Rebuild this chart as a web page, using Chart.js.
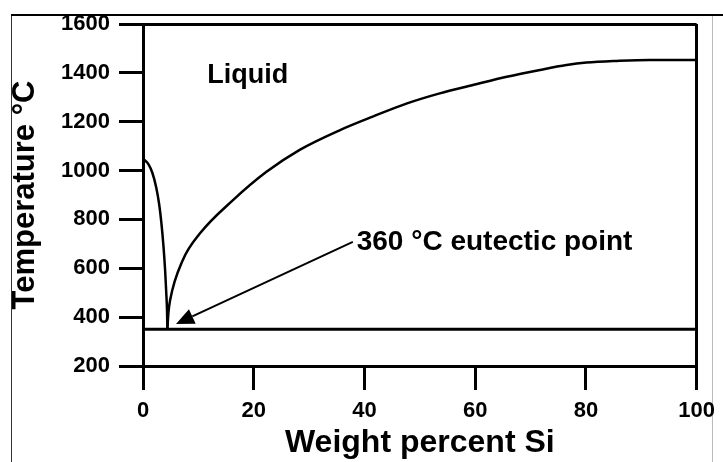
<!DOCTYPE html>
<html>
<head>
<meta charset="utf-8">
<script src="https://cdn.jsdelivr.net/npm/chart.js@4.4.1/dist/chart.umd.min.js"></script>
<style>
  html, body { margin: 0; padding: 0; background: #fff; }
  #frameTop { position: absolute; left: 11px; top: 14px; width: 712px; height: 0; border-top: 2px solid #000; }
  #frame { position: absolute; left: 11px; top: 16px; width: 700px; height: 446px;
           border-left: 1px solid #333; border-right: 1px solid #bbb; }
  #wrap { position: absolute; left: 0; top: 0; width: 723px; height: 462px; }
</style>
</head>
<body>
<div id="frameTop"></div>
<div id="frame"></div>
<div id="wrap"><canvas id="c" width="723" height="462"></canvas></div>
<script>
// ---- data ----
const leftBranchX = [0, 0.3, 1.0, 1.7, 2.4, 2.9, 3.3, 3.7, 4.0, 4.2, 4.35, 4.4];
const leftBranchT = [1050, 1043, 1025, 990, 930, 865, 790, 690, 590, 500, 420, 350];
const rightBranchX = [4.4, 4.6, 4.9, 7.2, 10.3, 16.3, 22.3, 28.3, 35.6, 41.5, 47.7, 53.6, 59.6, 65.7, 71.7, 76.5, 80.1, 85.6, 91.5, 100];
const rightBranchT = [350, 420, 470, 634, 743, 880, 995, 1085, 1166, 1221, 1275, 1316, 1350, 1384, 1412, 1432, 1442, 1449, 1453, 1453];
const eutecticX = [0, 100];
const eutecticT = [350, 350];
const xTicks = [0, 20, 40, 60, 80, 100];
const yTicks = [200, 400, 600, 800, 1000, 1200, 1400, 1600];
const liquidLabel = { text: 'Liquid', x: 11.6, t: 1391 };
const eutecticLabel = { text: '360 °C eutectic point', x: 38.6, t: 708 };
const arrowTail = { x: 37.9, t: 708 };
const arrowTip = { x: 5.96, t: 372 };

const FONT = '"Liberation Sans", Arial, Helvetica, sans-serif';
const toPts = (xs, ts) => xs.map((x, i) => ({ x: x, y: ts[i] }));

const annotate = {
  id: 'annotate',
  afterDatasetsDraw(chart) {
    const { ctx, scales: { x, y } } = chart;
    ctx.save();
    ctx.fillStyle = '#000';
    ctx.strokeStyle = '#000';
    ctx.textBaseline = 'middle';
    ctx.textAlign = 'left';
    ctx.font = 'bold 27px ' + FONT;
    ctx.fillText(liquidLabel.text, x.getPixelForValue(liquidLabel.x), y.getPixelForValue(liquidLabel.t));
    ctx.font = 'bold 28px ' + FONT;
    ctx.fillText(eutecticLabel.text, x.getPixelForValue(eutecticLabel.x), y.getPixelForValue(eutecticLabel.t));
    // arrow
    const x1 = x.getPixelForValue(arrowTail.x), y1 = y.getPixelForValue(arrowTail.t);
    const x2 = x.getPixelForValue(arrowTip.x), y2 = y.getPixelForValue(arrowTip.t);
    const ang = Math.atan2(y2 - y1, x2 - x1);
    const L = 18, W = 8;
    const bx = x2 - L * Math.cos(ang), by = y2 - L * Math.sin(ang);
    ctx.lineWidth = 2;
    ctx.beginPath();
    ctx.moveTo(x1, y1);
    ctx.lineTo(bx, by);
    ctx.stroke();
    ctx.beginPath();
    ctx.moveTo(x2, y2);
    ctx.lineTo(bx + W * Math.sin(ang), by - W * Math.cos(ang));
    ctx.lineTo(bx - W * Math.sin(ang), by + W * Math.cos(ang));
    ctx.closePath();
    ctx.fill();
    ctx.restore();
  }
};

const lineStyle = { borderColor: '#000', borderWidth: 2.5, pointRadius: 0, fill: false, cubicInterpolationMode: 'monotone' };

new Chart(document.getElementById('c'), {
  type: 'scatter',
  data: {
    datasets: [
      Object.assign({ label: 'liquidus (Au side)', data: toPts(leftBranchX, leftBranchT), showLine: true }, lineStyle),
      Object.assign({ label: 'liquidus (Si side)', data: toPts(rightBranchX, rightBranchT), showLine: true }, lineStyle),
      { label: 'eutectic', data: toPts(eutecticX, eutecticT), showLine: true, borderColor: '#000', borderWidth: 3, pointRadius: 0 }
    ]
  },
  options: {
    responsive: false,
    animation: false,
    layout: { padding: { left: 0, top: 24, right: 26, bottom: 0 } },
    plugins: { legend: { display: false }, tooltip: { enabled: false } },
    scales: {
      x: {
        type: 'linear', min: 0, max: 100,
        afterBuildTicks: s => { s.ticks = xTicks.map(v => ({ value: v })); },
        afterFit: s => { s.height = 96; },
        border: { color: '#000', width: 3 },
        grid: {
          color: c => (c.tick && c.tick.value === 100) ? '#000' : 'rgba(0,0,0,0)',
          tickColor: '#000', lineWidth: 3, tickWidth: 3, tickLength: 24
        },
        ticks: { color: '#000', font: { family: FONT, size: 22, weight: 'bold' }, padding: 8, maxRotation: 0,
                 callback: v => String(v) },
        title: { display: true, text: 'Weight percent Si', color: '#000', font: { family: FONT, size: 32, weight: 'bold', lineHeight: 1.2 }, padding: { top: 0, bottom: 0 } }
      },
      y: {
        type: 'linear', min: 200, max: 1600,
        afterBuildTicks: s => { s.ticks = yTicks.map(v => ({ value: v })); },
        afterFit: s => { s.width = 143; },
        border: { color: '#000', width: 3 },
        grid: {
          color: c => (c.tick && c.tick.value === 1600) ? '#000' : 'rgba(0,0,0,0)',
          tickColor: '#000', lineWidth: 3, tickWidth: 3, tickLength: 24
        },
        ticks: { color: '#000', font: { family: FONT, size: 22, weight: 'bold' }, padding: 9,
                 callback: v => String(v) },
        title: { display: true, text: 'Temperature °C', color: '#000', font: { family: FONT, size: 31, weight: 'bold', lineHeight: 1.2 }, padding: { top: 7, bottom: 0 } }
      }
    }
  },
  plugins: [annotate]
});
</script>
</body>
</html>
